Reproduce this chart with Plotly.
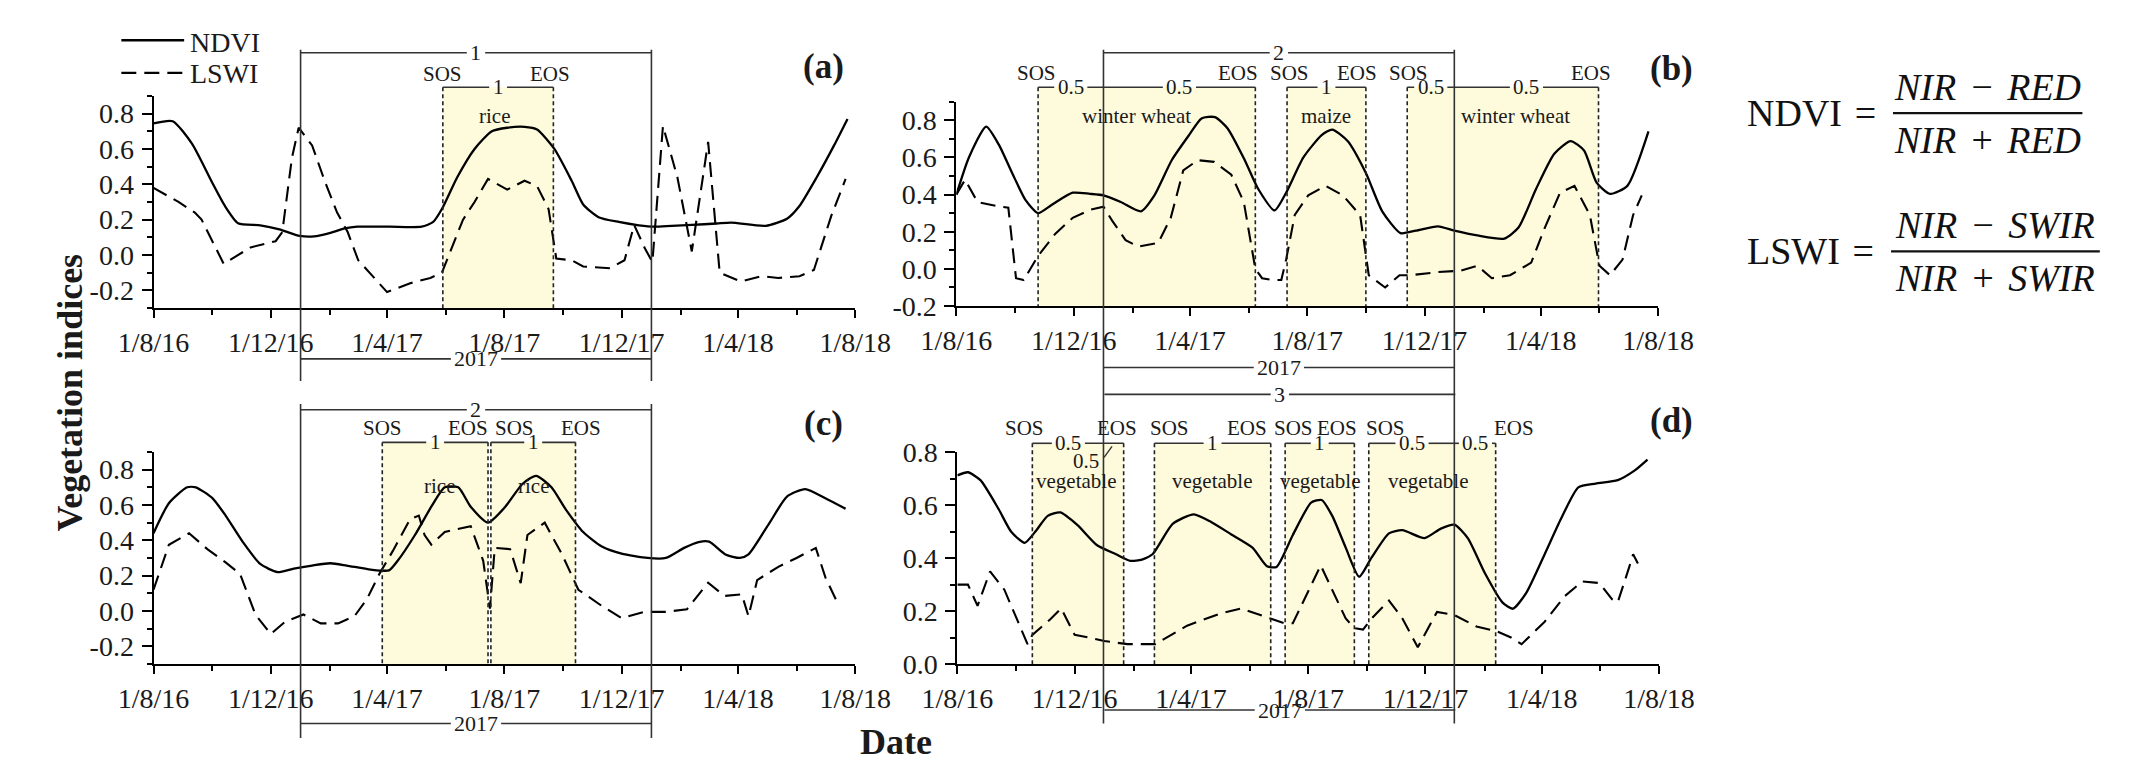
import plotly.graph_objects as go
import pandas as pd

W, H = 2151, 767
FONT = "Liberation Serif, Times New Roman, serif"
INK = "#1a1a1a"
SHADE = "#FEFADC"
DAYS_PER_PX = 730 / 726.0

# ---------------- data ----------------
tick_dates = ["2016-08-01", "2016-12-01", "2017-04-01", "2017-08-01", "2017-12-01", "2018-04-01", "2018-08-01"]
tick_labels = ["1/8/16", "1/12/16", "1/4/17", "1/8/17", "1/12/17", "1/4/18", "1/8/18"]
minor_dates = ["2016-10-01", "2017-02-01", "2017-06-01", "2017-10-01", "2018-02-01", "2018-06-01"]

# panel (a)
a_ndvi = [("2016-08-01", 0.745), ("2016-08-21", 0.757), ("2016-09-10", 0.63), ("2016-10-01", 0.41),
          ("2016-10-14", 0.28), ("2016-10-28", 0.18), ("2016-11-20", 0.168), ("2016-12-10", 0.145),
          ("2016-12-31", 0.108), ("2017-01-15", 0.105), ("2017-02-01", 0.125), ("2017-02-16", 0.15),
          ("2017-03-01", 0.16), ("2017-04-04", 0.16), ("2017-05-07", 0.16), ("2017-05-19", 0.187),
          ("2017-05-28", 0.26), ("2017-06-13", 0.44), ("2017-07-01", 0.60), ("2017-07-19", 0.70),
          ("2017-08-04", 0.72), ("2017-08-22", 0.725), ("2017-09-04", 0.71), ("2017-09-22", 0.60),
          ("2017-10-10", 0.42), ("2017-10-22", 0.286), ("2017-11-07", 0.214), ("2017-11-28", 0.187),
          ("2017-12-19", 0.168), ("2018-01-04", 0.16), ("2018-01-22", 0.165), ("2018-02-12", 0.17),
          ("2018-03-10", 0.178), ("2018-03-25", 0.183), ("2018-04-30", 0.165), ("2018-05-22", 0.205),
          ("2018-06-04", 0.277), ("2018-06-22", 0.44), ("2018-07-10", 0.62), ("2018-07-24", 0.77)]
a_lswi = [("2016-08-01", 0.38), ("2016-08-27", 0.30), ("2016-09-13", 0.24), ("2016-09-20", 0.20),
          ("2016-10-13", -0.05), ("2016-11-10", 0.043), ("2016-12-06", 0.078), ("2016-12-13", 0.13),
          ("2016-12-23", 0.55), ("2016-12-30", 0.72), ("2017-01-13", 0.62), ("2017-01-26", 0.42),
          ("2017-02-08", 0.24), ("2017-02-19", 0.13), ("2017-03-02", -0.03), ("2017-04-01", -0.21),
          ("2017-04-25", -0.16), ("2017-05-16", -0.13), ("2017-05-28", -0.10), ("2017-06-07", 0.04),
          ("2017-06-19", 0.20), ("2017-07-01", 0.30), ("2017-07-15", 0.43), ("2017-08-04", 0.37),
          ("2017-08-22", 0.42), ("2017-09-04", 0.39), ("2017-09-16", 0.26), ("2017-09-24", -0.02),
          ("2017-10-10", -0.03), ("2017-10-22", -0.065), ("2017-11-19", -0.075), ("2017-12-04", -0.03),
          ("2017-12-14", 0.17), ("2017-12-25", 0.04), ("2018-01-02", -0.04), ("2018-01-13", 0.73),
          ("2018-01-28", 0.44), ("2018-02-12", 0.02), ("2018-03-01", 0.64), ("2018-03-13", -0.10),
          ("2018-04-04", -0.15), ("2018-04-25", -0.12), ("2018-05-13", -0.13), ("2018-06-04", -0.12),
          ("2018-06-19", -0.085), ("2018-07-07", 0.22), ("2018-07-22", 0.43)]
a_sos = ["2017-05-29"]
a_eos = ["2017-09-21"]
a_crop = ["rice"]
a_count = [["1"]]

# panel (b)
b_ndvi = [("2016-08-01", 0.40), ("2016-08-14", 0.60), ("2016-09-01", 0.766), ("2016-09-14", 0.67),
          ("2016-09-28", 0.516), ("2016-10-12", 0.37), ("2016-10-25", 0.30), ("2016-11-08", 0.344),
          ("2016-11-30", 0.41), ("2016-12-18", 0.404), ("2017-01-01", 0.396), ("2017-01-19", 0.36),
          ("2017-02-09", 0.31), ("2017-02-23", 0.396), ("2017-03-13", 0.585), ("2017-03-31", 0.72),
          ("2017-04-13", 0.81), ("2017-04-27", 0.817), ("2017-05-10", 0.757), ("2017-05-28", 0.585),
          ("2017-06-11", 0.43), ("2017-06-28", 0.315), ("2017-07-10", 0.41), ("2017-07-28", 0.60),
          ("2017-08-16", 0.72), ("2017-08-27", 0.75), ("2017-09-12", 0.688), ("2017-10-01", 0.516),
          ("2017-10-18", 0.31), ("2017-11-06", 0.193), ("2017-11-22", 0.206), ("2017-12-15", 0.229),
          ("2018-01-01", 0.206), ("2018-01-25", 0.18), ("2018-02-22", 0.163), ("2018-03-09", 0.224),
          ("2018-03-27", 0.43), ("2018-04-15", 0.62), ("2018-05-02", 0.688), ("2018-05-16", 0.637),
          ("2018-05-29", 0.464), ("2018-06-12", 0.404), ("2018-06-30", 0.447), ("2018-07-22", 0.74)]
b_lswi = [("2016-08-01", 0.40), ("2016-08-10", 0.48), ("2016-08-23", 0.36), ("2016-09-15", 0.335),
          ("2016-09-24", 0.33), ("2016-10-02", -0.05), ("2016-10-10", -0.06), ("2016-10-25", 0.07),
          ("2016-11-12", 0.19), ("2016-11-30", 0.275), ("2016-12-18", 0.318), ("2017-01-01", 0.335),
          ("2017-01-10", 0.26), ("2017-01-24", 0.155), ("2017-02-06", 0.12), ("2017-02-27", 0.14),
          ("2017-03-12", 0.275), ("2017-03-25", 0.53), ("2017-04-09", 0.585), ("2017-04-26", 0.576),
          ("2017-05-14", 0.507), ("2017-05-27", 0.36), ("2017-06-08", 0.0), ("2017-06-15", -0.05),
          ("2017-06-26", -0.06), ("2017-07-05", -0.06), ("2017-07-10", 0.05), ("2017-07-19", 0.29),
          ("2017-08-02", 0.396), ("2017-08-20", 0.447), ("2017-09-07", 0.396), ("2017-09-25", 0.29),
          ("2017-10-04", -0.034), ("2017-10-21", -0.10), ("2017-11-05", -0.034), ("2017-11-16", -0.034),
          ("2017-12-15", -0.017), ("2018-01-07", -0.01), ("2018-01-25", 0.017), ("2018-02-09", -0.05),
          ("2018-02-28", -0.034), ("2018-03-22", 0.034), ("2018-04-05", 0.22), ("2018-04-21", 0.41),
          ("2018-05-06", 0.447), ("2018-05-22", 0.29), ("2018-06-01", 0.017), ("2018-06-12", -0.034),
          ("2018-06-25", 0.05), ("2018-07-06", 0.29), ("2018-07-15", 0.396)]
b_sos = ["2016-10-25", "2017-07-11", "2017-11-13"]
b_eos = ["2017-06-08", "2017-10-01", "2018-05-31"]
b_crop = ["winter wheat", "maize", "winter wheat"]
b_count = [["0.5", "0.5"], ["1"], ["0.5", "0.5"]]

# panel (c)
c_ndvi = [("2016-08-01", 0.44), ("2016-08-17", 0.61), ("2016-09-05", 0.70), ("2016-09-14", 0.70),
          ("2016-10-01", 0.64), ("2016-10-15", 0.54), ("2016-11-02", 0.39), ("2016-11-20", 0.266),
          ("2016-12-08", 0.22), ("2016-12-25", 0.24), ("2017-01-13", 0.257), ("2017-02-01", 0.27),
          ("2017-02-18", 0.257), ("2017-03-15", 0.234), ("2017-04-03", 0.23), ("2017-04-12", 0.284),
          ("2017-04-30", 0.43), ("2017-05-17", 0.59), ("2017-05-31", 0.70), ("2017-06-14", 0.70),
          ("2017-06-27", 0.59), ("2017-07-15", 0.50), ("2017-08-02", 0.59), ("2017-08-20", 0.72),
          ("2017-09-03", 0.765), ("2017-09-19", 0.70), ("2017-10-04", 0.574), ("2017-10-22", 0.447),
          ("2017-11-10", 0.366), ("2017-12-01", 0.324), ("2017-12-28", 0.30), ("2018-01-16", 0.30),
          ("2018-02-04", 0.357), ("2018-02-19", 0.39), ("2018-03-02", 0.393), ("2018-03-19", 0.32),
          ("2018-04-03", 0.30), ("2018-04-12", 0.32), ("2018-05-04", 0.50), ("2018-05-22", 0.647),
          ("2018-06-10", 0.69), ("2018-07-01", 0.638), ("2018-07-22", 0.578)]
c_lswi = [("2016-08-01", 0.12), ("2016-08-17", 0.375), ("2016-09-07", 0.44), ("2016-09-26", 0.35),
          ("2016-10-15", 0.275), ("2016-10-30", 0.21), ("2016-11-15", -0.02), ("2016-12-01", -0.13),
          ("2016-12-16", -0.06), ("2017-01-04", -0.02), ("2017-01-22", -0.07), ("2017-02-09", -0.07),
          ("2017-02-26", -0.03), ("2017-03-11", 0.067), ("2017-03-24", 0.21), ("2017-04-07", 0.34),
          ("2017-04-25", 0.52), ("2017-05-04", 0.54), ("2017-05-10", 0.43), ("2017-05-17", 0.375),
          ("2017-05-31", 0.447), ("2017-06-14", 0.466), ("2017-06-27", 0.48), ("2017-07-10", 0.284),
          ("2017-07-17", 0.013), ("2017-07-22", 0.357), ("2017-08-07", 0.35), ("2017-08-18", 0.158),
          ("2017-08-25", 0.43), ("2017-09-12", 0.50), ("2017-09-30", 0.32), ("2017-10-17", 0.12),
          ("2017-11-10", 0.03), ("2017-12-01", -0.04), ("2017-12-25", -0.005), ("2018-01-16", -0.005),
          ("2018-02-07", 0.01), ("2018-03-01", 0.16), ("2018-03-18", 0.085), ("2018-04-05", 0.094),
          ("2018-04-12", -0.03), ("2018-04-21", 0.175), ("2018-05-13", 0.25), ("2018-06-01", 0.30),
          ("2018-06-21", 0.357), ("2018-07-01", 0.19), ("2018-07-15", 0.03)]
c_sos = ["2017-03-27", "2017-07-18"]
c_eos = ["2017-07-15", "2017-10-14"]
c_crop = ["rice", "rice"]
c_count = [["1"], ["1"]]

# panel (d)
d_ndvi = [("2016-08-01", 0.713), ("2016-08-12", 0.725), ("2016-08-25", 0.695), ("2016-09-13", 0.585),
          ("2016-09-26", 0.50), ("2016-10-10", 0.458), ("2016-10-21", 0.50), ("2016-11-03", 0.56),
          ("2016-11-16", 0.573), ("2016-12-04", 0.525), ("2016-12-24", 0.45), ("2017-01-13", 0.415),
          ("2017-01-28", 0.39), ("2017-02-09", 0.395), ("2017-02-20", 0.415), ("2017-03-13", 0.53),
          ("2017-04-04", 0.566), ("2017-04-22", 0.537), ("2017-05-13", 0.49), ("2017-06-04", 0.44),
          ("2017-06-19", 0.37), ("2017-06-29", 0.367), ("2017-07-16", 0.488), ("2017-08-04", 0.61),
          ("2017-08-15", 0.62), ("2017-08-26", 0.56), ("2017-09-09", 0.44), ("2017-09-23", 0.33),
          ("2017-10-06", 0.403), ("2017-10-24", 0.494), ("2017-11-07", 0.506), ("2017-11-30", 0.476),
          ("2017-12-17", 0.512), ("2017-12-31", 0.527), ("2018-01-14", 0.476), ("2018-02-01", 0.342),
          ("2018-02-19", 0.233), ("2018-03-02", 0.209), ("2018-03-16", 0.27), ("2018-04-04", 0.415),
          ("2018-04-21", 0.549), ("2018-05-09", 0.668), ("2018-05-27", 0.682), ("2018-06-19", 0.695),
          ("2018-07-06", 0.73), ("2018-07-20", 0.773)]
d_lswi = [("2016-08-01", 0.30), ("2016-08-12", 0.30), ("2016-08-22", 0.22), ("2016-09-04", 0.35),
          ("2016-09-19", 0.28), ("2016-10-02", 0.17), ("2016-10-13", 0.075), ("2016-10-18", 0.11),
          ("2016-11-06", 0.17), ("2016-11-17", 0.21), ("2016-12-01", 0.11), ("2016-12-16", 0.10),
          ("2017-01-01", 0.087), ("2017-01-25", 0.075), ("2017-02-23", 0.075), ("2017-03-28", 0.145),
          ("2017-05-01", 0.19), ("2017-05-23", 0.21), ("2017-06-19", 0.178), ("2017-07-07", 0.154),
          ("2017-07-16", 0.154), ("2017-07-25", 0.22), ("2017-08-14", 0.373), ("2017-08-26", 0.28),
          ("2017-09-09", 0.172), ("2017-09-18", 0.136), ("2017-09-27", 0.13), ("2017-10-06", 0.172),
          ("2017-10-24", 0.24), ("2017-11-07", 0.172), ("2017-11-23", 0.063), ("2017-12-13", 0.197),
          ("2017-12-31", 0.185), ("2018-01-23", 0.142), ("2018-02-13", 0.124), ("2018-02-28", 0.10),
          ("2018-03-11", 0.075), ("2018-04-04", 0.16), ("2018-04-25", 0.257), ("2018-05-13", 0.312),
          ("2018-05-31", 0.306), ("2018-06-13", 0.245), ("2018-06-19", 0.233), ("2018-07-01", 0.367),
          ("2018-07-05", 0.415), ("2018-07-10", 0.38)]
d_sos = ["2016-10-18", "2017-02-22", "2017-07-08", "2017-10-03"]
d_eos = ["2017-01-21", "2017-06-23", "2017-09-18", "2018-02-12"]
d_crop = ["vegetable", "vegetable", "vegetable", "vegetable"]
d_count = [["0.5", "0.5"], ["1"], ["1"], ["0.5", "0.5"]]

year_counts = ["1", "2", "2", "3"]
year_label = "2017"
year_start, year_end = "2017-01-01", "2018-01-01"

# ---------------- helpers ----------------
def unzip(pairs):
    return [p[0] for p in pairs], [p[1] for p in pairs]


def PX(x):
    return x / W


def PY(y):
    return 1 - y / H


def fmt(ts):
    return pd.Timestamp(ts).strftime("%Y-%m-%d %H:%M")


def tw(t, size):
    return sum(0.25 if ch == "." else 0.5 for ch in t) * size


shapes, annotations = [], []


def hline(xr, x0, x1, ypx, width=1.6, color="#333"):
    shapes.append(dict(type="line", xref=xr, yref="paper", x0=fmt(x0), x1=fmt(x1),
                       y0=PY(ypx), y1=PY(ypx), line=dict(color=color, width=width)))


def label(xr, x, ypx, t, size=21, xshift=0, bold=False):
    txt = "<b>%s</b>" % t if bold else t
    annotations.append(dict(xref=xr, yref="paper", x=x, y=PY(ypx), text=txt, showarrow=False,
                            xanchor="center", yanchor="middle", xshift=xshift, borderpad=0,
                            font=dict(family=FONT, size=size, color=INK)))


def bracket(xr, x0, x1, ypx, items, size=21):
    cur = pd.Timestamp(x0)
    end = pd.Timestamp(x1)
    for c, t in sorted(items, key=lambda z: z[0]):
        half = pd.Timedelta(days=(tw(t, size) / 2 + 4) * DAYS_PER_PX)
        if c - half > cur:
            hline(xr, cur, c - half, ypx)
        cur = c + half
        label(xr, fmt(c), ypx, t, size)
    if end > cur:
        hline(xr, cur, end, ypx)


def mid(t0, t1):
    t0, t1 = pd.Timestamp(t0), pd.Timestamp(t1)
    return t0 + (t1 - t0) / 2


# ---------------- panels ----------------
panels = [
    dict(s="", ndvi=a_ndvi, lswi=a_lswi, sos=a_sos, eos=a_eos, crop=a_crop, count=a_count,
         xdom=(113.3, 839.3), ydom=(76, 297), yr=(-0.3, 0.9),
         yt=[-0.2, 0.0, 0.2, 0.4, 0.6, 0.8], ytt=["-0.2", "0.0", "0.2", "0.4", "0.6", "0.8"],
         ym=[-0.3, -0.1, 0.1, 0.3, 0.5, 0.7, 0.9],
         top=31, vtop=28, vbot=373, yb=350, lab=53, sb=67, crop_y=97,
         sos_dx=[0], eos_dx=[-3], crop_dx=[-4], tag="(a)", tag_xy=(806, 45)),
    dict(s="2", ndvi=b_ndvi, lswi=b_lswi, sos=b_sos, eos=b_eos, crop=b_crop, count=b_count,
         xdom=(944, 1670), ydom=(82, 295), yr=(-0.2, 0.9),
         yt=[-0.2, 0.0, 0.2, 0.4, 0.6, 0.8], ytt=["-0.2", "0.0", "0.2", "0.4", "0.6", "0.8"],
         ym=[-0.1, 0.1, 0.3, 0.5, 0.7, 0.9],
         top=31, vtop=28, vbot=730, yb=359, lab=52, sb=67, crop_y=97,
         sos_dx=[-2, 2, 1], eos_dx=[-17, -9, -8], crop_dx=[-10, 0, 13], tag="(b)", tag_xy=(1684, 47)),
    dict(s="3", ndvi=c_ndvi, lswi=c_lswi, sos=c_sos, eos=c_eos, crop=c_crop, count=c_count,
         xdom=(113.3, 839.3), ydom=(447, 668), yr=(-0.3, 0.9),
         yt=[-0.2, 0.0, 0.2, 0.4, 0.6, 0.8], ytt=["-0.2", "0.0", "0.2", "0.4", "0.6", "0.8"],
         ym=[-0.3, -0.1, 0.1, 0.3, 0.5, 0.7, 0.9],
         top=403, vtop=397, vbot=745, yb=730, lab=422, sb=437, crop_y=483,
         sos_dx=[0, 24], eos_dx=[-20, 6], crop_dx=[4, 0], tag="(c)", tag_xy=(806, 417)),
    dict(s="4", ndvi=d_ndvi, lswi=d_lswi, sos=d_sos, eos=d_eos, crop=d_crop, count=d_count,
         xdom=(945, 1671), ydom=(447.5, 668), yr=(0.0, 0.8),
         yt=[0.0, 0.2, 0.4, 0.6, 0.8], ytt=["0.0", "0.2", "0.4", "0.6", "0.8"],
         ym=[0.1, 0.3, 0.5, 0.7],
         top=387, vtop=None, vbot=730, yb=716, lab=422, sb=438, crop_y=477,
         sos_dx=[-8, 15, 8, 17], eos_dx=[-7, -24, -17, 18], crop_dx=[-2, -1, 0, -4],
         tag="(d)", tag_xy=(1684, 414)),
]

fig = go.Figure()
layout_axes = {}
tickfont = dict(family=FONT, size=28, color=INK)

for i, p in enumerate(panels):
    s = p["s"]
    xr, yr_ = "x" + s, "y" + s
    xd, yd = unzip(p["ndvi"])
    fig.add_trace(go.Scatter(x=xd, y=yd, mode="lines", name="NDVI", showlegend=False,
                             line=dict(color="black", width=2.3, shape="spline", smoothing=0.6),
                             xaxis=xr, yaxis=yr_, hoverinfo="skip"))
    xd, yd = unzip(p["lswi"])
    fig.add_trace(go.Scatter(x=xd, y=yd, mode="lines", name="LSWI", showlegend=False,
                             line=dict(color="black", width=2.1, dash="15px,8px"),
                             xaxis=xr, yaxis=yr_, hoverinfo="skip"))

    layout_axes["xaxis" + s] = dict(
        domain=[PX(p["xdom"][0]), PX(p["xdom"][1])], anchor=yr_, type="date",
        range=["2016-08-01", "2018-08-01"], tickmode="array", tickvals=tick_dates,
        ticktext=tick_labels, ticks="outside", ticklen=8, tickwidth=2, tickcolor="black",
        showline=True, linewidth=2, linecolor="black", showgrid=False, zeroline=False,
        tickfont=tickfont, ticklabelstandoff=0, fixedrange=True,
        minor=dict(tickvals=minor_dates, ticks="outside", ticklen=5, tickwidth=2,
                   tickcolor="black", showgrid=False))
    layout_axes["yaxis" + s] = dict(
        domain=[PY(p["ydom"][1]), PY(p["ydom"][0])], anchor=xr, range=list(p["yr"]),
        tickmode="array", tickvals=p["yt"], ticktext=p["ytt"], ticks="outside", ticklen=10,
        tickwidth=2, tickcolor="black", showline=True, linewidth=2, linecolor="black",
        showgrid=False, zeroline=False, tickfont=tickfont, ticklabelstandoff=2, fixedrange=True,
        minor=dict(tickvals=p["ym"], ticks="outside", ticklen=5, tickwidth=2,
                   tickcolor="black", showgrid=False))

    axis_bottom = p["ydom"][1]

    # year frame
    if p["vtop"] is not None:
        for xv in (year_start, year_end):
            shapes.append(dict(type="line", xref=xr, yref="paper", x0=xv, x1=xv,
                               y0=PY(p["vtop"]), y1=PY(p["vbot"]),
                               line=dict(color="#333", width=1.6)))
    ymid = mid(year_start, year_end)
    bracket(xr, year_start, year_end, p["top"], [(ymid, year_counts[i])], size=22)
    bracket(xr, year_start, year_end, p["yb"], [(ymid, year_label)], size=22)

    # growing seasons
    edges = [pd.Timestamp(year_start), pd.Timestamp(year_end)]
    for k, (so, eo) in enumerate(zip(p["sos"], p["eos"])):
        shapes.append(dict(type="rect", xref=xr, yref="paper", x0=so, x1=eo,
                           y0=PY(axis_bottom), y1=PY(p["sb"]), fillcolor=SHADE,
                           line=dict(width=0), layer="below"))
        for xv in (so, eo):
            shapes.append(dict(type="line", xref=xr, yref="paper", x0=xv, x1=xv,
                               y0=PY(p["sb"]), y1=PY(axis_bottom),
                               line=dict(color="#222", width=1.6, dash="4px,3px")))
        t0, t1 = pd.Timestamp(so), pd.Timestamp(eo)
        counts = p["count"][k]
        if len(counts) == 1:
            items = [(mid(t0, t1), counts[0])]
            below = []
        else:
            cut = [e for e in edges if t0 < e < t1][0]
            items, below = [], []
            for (u0, u1), t in zip([(t0, cut), (cut, t1)], counts):
                width_px = (u1 - u0).days / DAYS_PER_PX
                if width_px < tw(t, 21) + 6:
                    below.append((mid(u0, u1), t))
                else:
                    items.append((mid(u0, u1), t))
        bracket(xr, so, eo, p["sb"], items)
        for c, t in below:
            shapes.append(dict(type="line", xref=xr, yref="paper", xsizemode="pixel",
                               ysizemode="pixel", xanchor=fmt(c), yanchor=PY(p["sb"]),
                               x0=-2, x1=-10, y0=-3, y1=-14,
                               line=dict(color="#333", width=1.4)))
            label(xr, fmt(c), p["sb"] + 18, t, 21, xshift=-28)
        label(xr, so, p["lab"], "SOS", 21, xshift=p["sos_dx"][k])
        label(xr, eo, p["lab"], "EOS", 21, xshift=p["eos_dx"][k])
        label(xr, fmt(mid(t0, t1)), p["crop_y"], p["crop"][k], 21, xshift=p["crop_dx"][k])

    label("paper", PX(p["tag_xy"][0]), p["tag_xy"][1], p["tag"], 35, bold=True)

# legend (drawn)
shapes.append(dict(type="line", xref="paper", yref="paper", x0=PX(80), x1=PX(145),
                   y0=PY(18), y1=PY(18), line=dict(color="black", width=2.3)))
shapes.append(dict(type="line", xref="paper", yref="paper", x0=PX(80), x1=PX(145),
                   y0=PY(52), y1=PY(52), line=dict(color="black", width=2.1, dash="15px,8px")))
for name, yv in (("NDVI", 20), ("LSWI", 53)):
    annotations.append(dict(xref="paper", yref="paper", x=PX(150), y=PY(yv), text=name,
                            showarrow=False, xanchor="left", yanchor="middle", borderpad=0,
                            font=dict(family=FONT, size=28, color=INK)))

# axis titles
annotations.append(dict(xref="paper", yref="paper", x=PX(27), y=PY(385),
                        text="<b>Vegetation indices</b>", textangle=-90, showarrow=False,
                        xanchor="center", yanchor="middle",
                        font=dict(family=FONT, size=36, color=INK)))
annotations.append(dict(xref="paper", yref="paper", x=PX(882), y=PY(749), text="<b>Date</b>",
                        showarrow=False, xanchor="center", yanchor="middle",
                        font=dict(family=FONT, size=36, color=INK)))

# formulas
SP = "\u2004"
formulas = [("NDVI", "NIR" + SP + "\u2212" + SP + "RED", "NIR" + SP + "+" + SP + "RED", 94, 1897, 1913, 2109),
            ("LSWI", "NIR" + SP + "\u2212" + SP + "SWIR", "NIR" + SP + "+" + SP + "SWIR", 238, 1895, 1911, 2127)]
for name, num, den, yl, xr_eq, f0, f1 in formulas:
    fc = (f0 + f1) / 2
    annotations.append(dict(xref="paper", yref="paper", x=PX(xr_eq), y=PY(yl), text=name + SP + "=",
                            showarrow=False, xanchor="right", yanchor="middle",
                            font=dict(family=FONT, size=38, color="#111")))
    annotations.append(dict(xref="paper", yref="paper", x=PX(fc), y=PY(yl - 27),
                            text="<i>%s</i>" % num, showarrow=False, xanchor="center",
                            yanchor="middle", font=dict(family=FONT, size=38, color="#111")))
    annotations.append(dict(xref="paper", yref="paper", x=PX(fc), y=PY(yl + 28),
                            text="<i>%s</i>" % den, showarrow=False, xanchor="center",
                            yanchor="middle", font=dict(family=FONT, size=38, color="#111")))
    shapes.append(dict(type="line", xref="paper", yref="paper", x0=PX(f0), x1=PX(f1),
                       y0=PY(yl), y1=PY(yl), line=dict(color="#111", width=2.2)))

fig.update_layout(width=W, height=H, autosize=False, margin=dict(l=0, r=0, t=0, b=0),
                  paper_bgcolor="white", plot_bgcolor="white", showlegend=False,
                  shapes=shapes, annotations=annotations, **layout_axes)

fig.write_html("out.html")
